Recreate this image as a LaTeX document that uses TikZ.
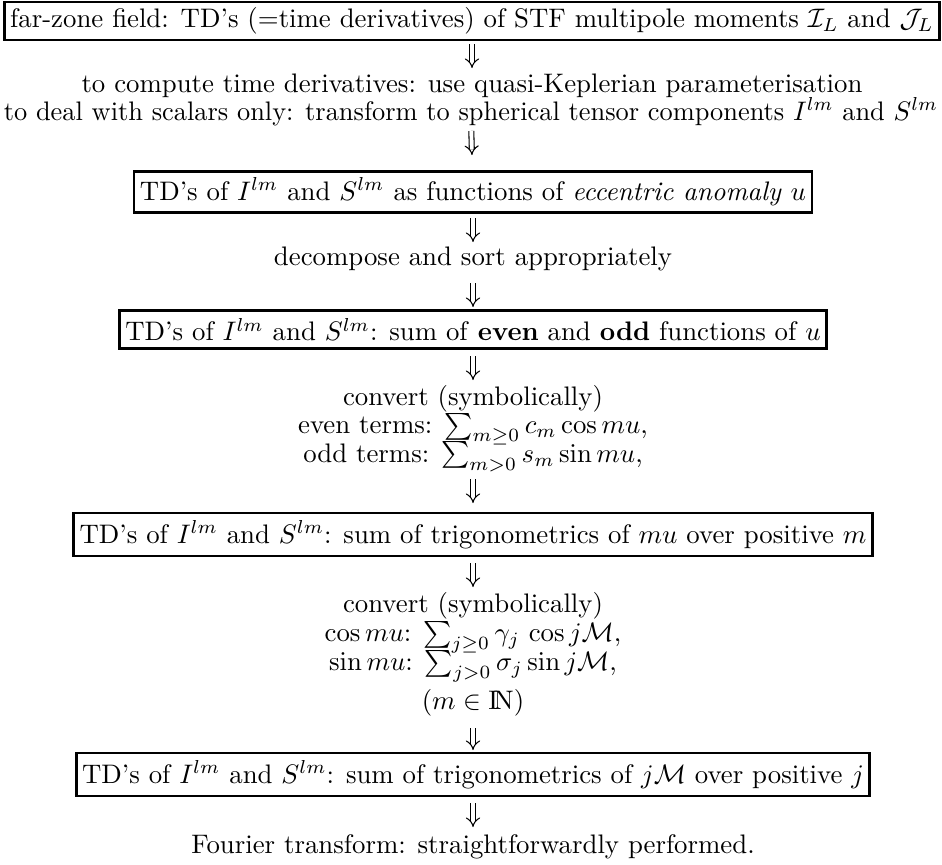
\documentclass[tikz,border=0pt]{standalone}
\usepackage{amsmath}
\usepackage{graphicx}
\usetikzlibrary{arrows.meta}
\newlength\pxu
\setlength\pxu{0.3732pt}
\newcommand\darr[4]{\draw[dar, shorten <=#3\pxu, shorten >=#4\pxu] (#1) -- (#2);}
\begin{document}
\begin{tikzpicture}[x=\pxu, y=-\pxu,
  box/.style={draw, line width=1.05pt, inner xsep=2.2pt, inner ysep=0pt, align=center},
  txt/.style={inner sep=0pt, text height=7pt, text depth=2.5pt, anchor=base},
  dar/.style={double, double distance=1.45pt, line width=0.4pt, -Implies}]
\useasboundingbox (0,0) rectangle (942,864);
\node[box, minimum height=38\pxu] (b1) at (472,21)
  {far-zone field: TD's (=time derivatives) of STF multipole moments $\mathcal{I}_L$ and $\mathcal{J}_L$};
\node[txt] (l1a) at (472,92.5) {to compute time derivatives: use quasi-Keplerian parameterisation};
\node[txt] (l1b) at (471,120.5) {\scalebox{0.984}[1]{to deal with scalars only: transform to spherical tensor components $I^{lm}$ and $S^{lm}$}};
\node[box, minimum height=41\pxu] (b2) at (473,192)
  {TD's of $I^{lm}$ and $S^{lm}$ as functions of \emph{eccentric anomaly} $u$};
\node[txt] (l2) at (473,265) {decompose and sort appropriately};
\node[box, minimum height=38\pxu] (b3) at (473,329.5)
  {TD's of $I^{lm}$ and $S^{lm}$: sum of \textbf{even} and \textbf{odd} functions of $u$};
\node[txt] (l3a) at (473,405) {convert (symbolically)};
\node[txt] (l3b) at (473,433.5) {even terms: $\sum_{m\geq 0} c_m \cos mu$,};
\node[txt] (l3c) at (473,462) {odd terms: $\sum_{m>0} s_m \sin mu$,};
\node[box, minimum height=43\pxu] (b4) at (473,534.5)
  {TD's of $I^{lm}$ and $S^{lm}$: sum of trigonometrics of $mu$ over positive $m$};
\node[txt] (l4a) at (473,612) {convert (symbolically)};
\node[txt] (l4b) at (473,641.5) {$\cos mu$: $\sum_{j\geq 0} \gamma_j\,\cos j\mathcal{M}$,};
\node[txt] (l4c) at (473,670.5) {$\sin mu$: $\sum_{j>0} \sigma_j \sin j\mathcal{M}$,};
\node[txt] (l4d) at (473,709) {$(m\in \mathrm{I\!N})$};
\node[box, minimum height=43\pxu] (b5) at (473,774.5)
  {TD's of $I^{lm}$ and $S^{lm}$: sum of trigonometrics of $j\mathcal{M}$ over positive $j$};
\node[txt] (l5) at (473,853) {Fourier transform: straightforwardly performed.};
\darr{b1.center}{l1a.base}{23}{24.5}
\darr{l1b.base}{b2.center}{10.5}{37}
\darr{b2.center}{l2.base}{26}{23}
\darr{l2.base}{b3.center}{18}{22.5}
\darr{b3.center}{l3a.base}{26.5}{25}
\darr{l3c.base}{b4.center}{17}{31.5}
\darr{b4.center}{l4a.base}{28.5}{25}
\darr{l4d.base}{b5.center}{19}{24.5}
\darr{b5.center}{l5.base}{28.5}{26}
\end{tikzpicture}
\end{document}
